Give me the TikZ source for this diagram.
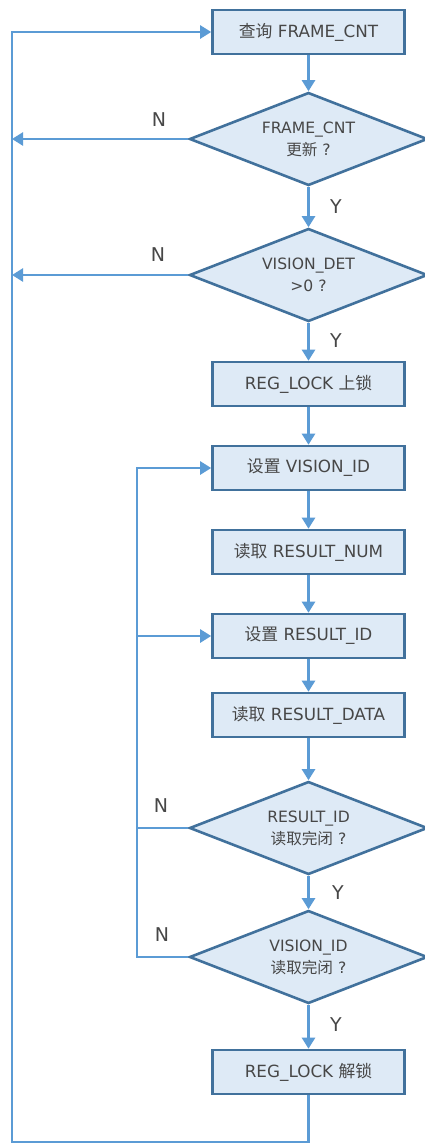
\documentclass[tikz,border=0pt]{standalone}
\usepackage{fontspec}
\setmainfont{DejaVu Sans}
\newfontfamily\cjk{Noto Sans CJK SC}
\usetikzlibrary{arrows.meta,shapes.geometric}
\definecolor{boxfill}{HTML}{DEEAF6}
\definecolor{boxdraw}{HTML}{41719C}
\definecolor{conn}{HTML}{5B9BD5}
\definecolor{txt}{HTML}{474747}
\newcommand\zh[1]{{\cjk #1}}
\begin{document}
\begin{tikzpicture}[x=1pt,y=-1pt,
  procbox/.style={draw=boxdraw, fill=boxfill, line width=2.6pt, minimum width=192pt, minimum height=44pt, inner sep=0pt, text=txt, font=\fontsize{16.8}{20}\selectfont},
  decision/.style={diamond, aspect=2.54, draw=boxdraw, fill=boxfill, line width=2.6pt, minimum width=238pt, minimum height=93pt, inner sep=0pt, text=txt, align=center, font=\fontsize{15.6}{22}\selectfont},
  conn/.style={draw=conn, line width=2.4pt, -{Triangle[length=11pt,width=13pt]}},
  plain/.style={draw=conn, line width=2.4pt},
  lab/.style={text=txt, font=\fontsize{19}{22}\selectfont, inner sep=0pt}]
\fill[white] (0,0) rectangle (425,1144);
\useasboundingbox (0,0) rectangle (425,1144);

\node[procbox] (b1) at (308.5,32) {\zh{查询} FRAME\_CNT};
\node[decision] (d1) at (308.5,139) {FRAME\_CNT\\\zh{更新} ?};
\node[decision] (d2) at (308.5,275) {VISION\_DET\\>0 ?};
\node[procbox] (b2) at (308.5,384) {REG\_LOCK \zh{上锁}};
\node[procbox] (b3) at (308.5,468) {\zh{设置} VISION\_ID};
\node[procbox] (b4) at (308.5,552) {\zh{读取} RESULT\_NUM};
\node[procbox] (b5) at (308.5,636) {\zh{设置} RESULT\_ID};
\node[procbox] (b6) at (308.5,715) {\zh{读取} RESULT\_DATA};
\node[decision] (d3) at (308.5,828) {RESULT\_ID\\\zh{读取完闭} ?};
\node[decision] (d4) at (308.5,957) {VISION\_ID\\\zh{读取完闭} ?};
\node[procbox] (b7) at (308.5,1072) {REG\_LOCK \zh{解锁}};

\coordinate (outerB) at (308.5,1142);
\coordinate (outerL) at (12,1142);
\coordinate (innerx) at (137,0);

\draw[conn] (b1) -- (d1);
\draw[conn] (d1) -- (d2);
\draw[conn] (d2) -- (b2);
\draw[conn] (b2) -- (b3);
\draw[conn] (b3) -- (b4);
\draw[conn] (b4) -- (b5);
\draw[conn] (b5) -- (b6);
\draw[conn] (b6) -- (d3);
\draw[conn] (d3) -- (d4);
\draw[conn] (d4) -- (b7);

\draw[conn] (b7.south) -- (outerB) -- (outerL) |- (b1.west);
\draw[conn] (d1.west) -- (d1.west -| outerL);
\draw[conn] (d2.west) -- (d2.west -| outerL);

\draw[conn] (d4.west) -- (d4.west -| innerx) |- (b3.west);
\draw[conn] (innerx |- b5.west) -- (b5.west);
\draw[plain] (d3.west) -- (d3.west -| innerx);

\node[lab] (n1) at (159,120) {N};
\node[lab] (n2) at (158,255) {N};
\node[lab] (n3) at (161,806) {N};
\node[lab] (n4) at (162,935) {N};
\node[lab] (y1) at (336,207) {Y};
\node[lab] (y2) at (336,341) {Y};
\node[lab] (y3) at (338,893) {Y};
\node[lab] (y4) at (336,1025) {Y};
\end{tikzpicture}
\end{document}
